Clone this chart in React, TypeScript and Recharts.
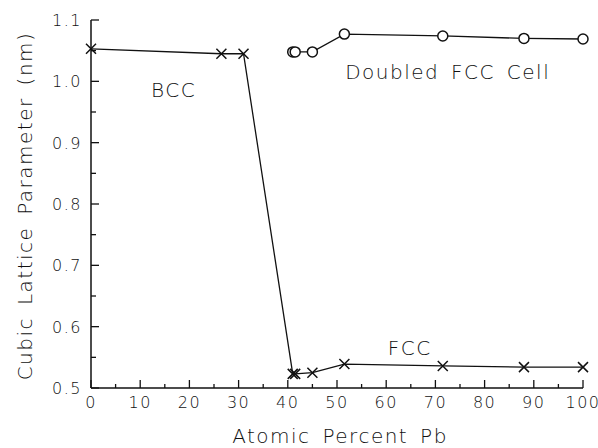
import React from 'react';
import { LineChart, Line, XAxis, YAxis, ReferenceDot } from 'recharts';

// Atomic percent Pb vs cubic lattice parameter (nm)
const crossX = [0, 26.5, 31, 41, 41.5, 45, 51.5, 71.5, 88, 100];
const crossY = [1.053, 1.045, 1.045, 0.523, 0.523, 0.525, 0.539, 0.536, 0.534, 0.534];

const circleX = [41, 41.5, 45, 51.5, 71.5, 88, 100];
const circleY = [1.048, 1.048, 1.048, 1.077, 1.074, 1.07, 1.069];

const xTicks = [0, 5, 10, 15, 20, 25, 30, 35, 40, 45, 50, 55, 60, 65, 70, 75, 80, 85, 90, 95, 100];
const yTicks = [0.5, 0.55, 0.6, 0.65, 0.7, 0.75, 0.8, 0.85, 0.9, 0.95, 1.0, 1.05, 1.1];

const notes = [
  { text: 'BCC', x: 16.8, y: 0.9865 },
  { text: 'Doubled FCC Cell', x: 72.5, y: 1.015 },
  { text: 'FCC', x: 64.8, y: 0.566 },
];

const crossData = crossX.map((x, i) => ({ x, y: crossY[i] }));
const circleData = circleX.map((x, i) => ({ x, y: circleY[i] }));

const INK = '#111';
const FONT = '"DejaVu Sans", sans-serif';

const isMajorX = (v: number) => v % 10 === 0;
const isMajorY = (v: number) => Math.abs(v * 10 - Math.round(v * 10)) < 1e-6;

const tickText = { fontSize: 16, letterSpacing: 1.5, fontFamily: FONT, fontWeight: 200, fill: INK };

const BottomTick = (props: any) => {
  const { x, y, payload } = props;
  const major = isMajorX(payload.value);
  return (
    <g>
      <line x1={x} y1={y} x2={x} y2={y - (major ? 8 : 4)} stroke={INK} strokeWidth={1.3} />
      {major && (
        <text x={x} y={y + 20} textAnchor="middle" {...tickText}>
          {payload.value}
        </text>
      )}
    </g>
  );
};

const TopTick = (props: any) => {
  const { x, y, payload } = props;
  const major = isMajorX(payload.value);
  return <line x1={x} y1={y} x2={x} y2={y + (major ? 6 : 4)} stroke={INK} strokeWidth={1.3} />;
};

const LeftTick = (props: any) => {
  const { x, y, payload } = props;
  const major = isMajorY(payload.value);
  return (
    <g>
      <line x1={x} y1={y} x2={x + (major ? 8 : 5)} y2={y} stroke={INK} strokeWidth={1.3} />
      {major && (
        <text x={x - 9} y={y + 6} textAnchor="end" {...tickText}>
          {payload.value.toFixed(1)}
        </text>
      )}
    </g>
  );
};

const RightTick = (props: any) => {
  const { x, y, payload } = props;
  const major = isMajorY(payload.value);
  return <line x1={x} y1={y} x2={x - (major ? 6 : 4)} y2={y} stroke={INK} strokeWidth={1.3} />;
};

const CrossDot = (props: any) => {
  const { cx, cy, index } = props;
  const s = 5;
  return (
    <path
      key={`cross-${index}`}
      d={`M${cx - s},${cy - s}L${cx + s},${cy + s}M${cx - s},${cy + s}L${cx + s},${cy - s}`}
      stroke={INK}
      strokeWidth={1.5}
      fill="none"
    />
  );
};

const textStyle = { fontSize: 20, letterSpacing: 1.5, wordSpacing: 4, fontFamily: FONT, fontWeight: 200, fill: INK };

export default function App() {
  return (
    <div style={{ position: 'absolute', left: 0, top: 0, background: '#fff' }}>
      <LineChart width={598} height={448} margin={{ top: 20, right: 15, bottom: 0, left: 0 }}>
        <XAxis
          dataKey="x"
          type="number"
          domain={[0, 100]}
          ticks={xTicks}
          interval={0}
          height={60}
          tickSize={0}
          tickMargin={0}
          tickLine={false}
          tick={BottomTick}
          axisLine={{ stroke: INK, strokeWidth: 1.5 }}
          label={{
            content: () => (
              <text x={340} y={443} textAnchor="middle" {...textStyle}>
                Atomic Percent Pb
              </text>
            ),
          }}
        />
        <XAxis
          xAxisId="top"
          orientation="top"
          type="number"
          domain={[0, 100]}
          allowDataOverflow
          ticks={xTicks}
          interval={0}
          height={0}
          tickSize={0}
          tickMargin={0}
          tickLine={false}
          tick={TopTick}
          axisLine={{ stroke: INK, strokeWidth: 1.5 }}
        />
        <YAxis
          type="number"
          domain={[0.5, 1.1]}
          ticks={yTicks}
          interval={0}
          width={91}
          tickSize={0}
          tickMargin={0}
          tickLine={false}
          tick={LeftTick}
          axisLine={{ stroke: INK, strokeWidth: 1.5 }}
          label={{
            content: () => (
              <text x={25} y={206} transform="rotate(-90, 25, 206)" textAnchor="middle" dominantBaseline="central" {...textStyle}>
                Cubic Lattice Parameter (nm)
              </text>
            ),
          }}
        />
        <YAxis
          yAxisId="right"
          orientation="right"
          type="number"
          domain={[0.5, 1.1]}
          allowDataOverflow
          ticks={yTicks}
          interval={0}
          width={0}
          tickSize={0}
          tickMargin={0}
          tickLine={false}
          tick={RightTick}
          axisLine={{ stroke: INK, strokeWidth: 1.5 }}
        />
        <Line
          data={crossData}
          dataKey="y"
          type="linear"
          stroke={INK}
          strokeWidth={1.3}
          dot={CrossDot}
          activeDot={false}
          isAnimationActive={false}
        />
        <Line
          data={circleData}
          dataKey="y"
          type="linear"
          stroke={INK}
          strokeWidth={1.3}
          dot={{ r: 5, fill: '#fff', stroke: INK, strokeWidth: 1.5 }}
          activeDot={false}
          isAnimationActive={false}
        />
        {notes.map((n) => (
          <ReferenceDot
            key={n.text}
            x={n.x}
            y={n.y}
            r={1}
            fill="none"
            stroke="none"
            label={{
              content: (p: any) => {
                const vb = p.viewBox || {};
                const cx = (vb.x ?? 0) + (vb.width ?? 0) / 2;
                const cy = (vb.y ?? 0) + (vb.height ?? 0) / 2;
                return (
                  <text x={cx} y={cy} textAnchor="middle" dominantBaseline="central" {...textStyle}>
                    {n.text}
                  </text>
                );
              },
            }}
          />
        ))}
      </LineChart>
    </div>
  );
}
